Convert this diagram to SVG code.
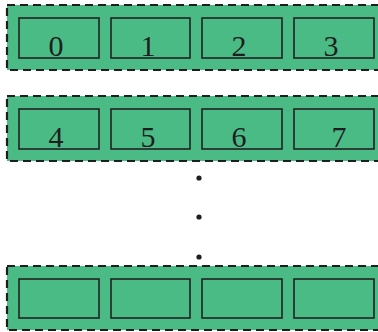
<svg xmlns="http://www.w3.org/2000/svg" width="378" height="332" viewBox="0 0 378 332">
<style>
.outer{fill:#4bbb86;stroke:#1e1e1e;stroke-width:2.2;stroke-dasharray:8,5}
.cell{fill:#4bbb86;stroke:#222;stroke-width:1.6}
.lbl{font-family:"Liberation Serif",serif;font-size:30px;fill:#1e1e1e;text-anchor:middle}
.dot{fill:#1e1e1e}
</style>
<rect width="378" height="332" fill="#fff"/>
<g id="row0">
<rect class="outer" x="7" y="5" width="376" height="65"/>
<rect class="cell" x="19" y="18" width="80" height="40"/>
<rect class="cell" x="111" y="18" width="79" height="40"/>
<rect class="cell" x="202" y="18" width="80" height="40"/>
<rect class="cell" x="294" y="18" width="80" height="40"/>
<text class="lbl" x="56" y="56">0</text>
<text class="lbl" x="148" y="56">1</text>
<text class="lbl" x="239" y="56">2</text>
<text class="lbl" x="331" y="56">3</text>
</g>
<g id="row1">
<rect class="outer" x="7" y="96" width="376" height="65"/>
<rect class="cell" x="19" y="109" width="80" height="40"/>
<rect class="cell" x="111" y="109" width="79" height="40"/>
<rect class="cell" x="202" y="109" width="80" height="40"/>
<rect class="cell" x="294" y="109" width="80" height="40"/>
<text class="lbl" x="56" y="147">4</text>
<text class="lbl" x="148" y="147">5</text>
<text class="lbl" x="239" y="147">6</text>
<text class="lbl" x="339" y="147">7</text>
</g>
<g id="dots">
<circle class="dot" cx="199" cy="178" r="2.6"/>
<circle class="dot" cx="199" cy="217" r="2.6"/>
<circle class="dot" cx="199" cy="257" r="2.6"/>
</g>
<g id="rowN">
<rect class="outer" x="7" y="266" width="376" height="64"/>
<rect class="cell" x="19" y="279" width="80" height="39"/>
<rect class="cell" x="111" y="279" width="79" height="39"/>
<rect class="cell" x="202" y="279" width="80" height="39"/>
<rect class="cell" x="294" y="279" width="80" height="39"/>
</g>
<g id="connectors"></g>
</svg>
